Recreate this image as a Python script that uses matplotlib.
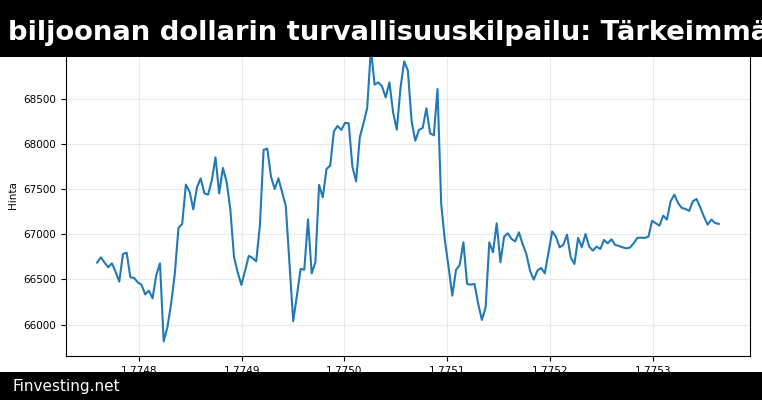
import matplotlib
matplotlib.use("Agg")
import matplotlib.pyplot as plt
from matplotlib.patches import Rectangle
from matplotlib.ticker import ScalarFormatter
import numpy as np

# hourly timestamps (in units of 1e9 s), first point and step
t_start = 1.7747594
t_step = 0.0000036

# price readings, one per hour
price = [
    66686, 66744, 66689, 66634, 66678, 66586, 66476, 66782, 66796, 66523,
    66517, 66468, 66442, 66335, 66376, 66291, 66550, 66678, 65815, 65970,
    66229, 66561, 67070, 67114, 67549, 67471, 67275, 67519, 67618, 67452,
    67438, 67593, 67851, 67452, 67733, 67582, 67280, 66752, 66579, 66439,
    66597, 66760, 66738, 66700, 67095, 67933, 67947, 67637, 67501, 67618,
    67464, 67313, 66671, 66037, 66321, 66616, 66608, 67165, 66567, 66689,
    67545, 67408, 67722, 67759, 68138, 68198, 68154, 68231, 68227, 67748,
    67585, 68072, 68227, 68397, 69053, 68655, 68680, 68636, 68514, 68680,
    68348, 68157, 68618, 68913, 68810, 68249, 68035, 68154, 68176, 68393,
    68116, 68094, 68607, 67335, 66929, 66634, 66321, 66605, 66660, 66910,
    66450, 66442, 66450, 66229, 66052, 66191, 66910, 66800, 67121, 66689,
    66973, 67010, 66948, 66921, 67021, 66893, 66782, 66597, 66498, 66597,
    66627, 66567, 66800, 67032, 66973, 66855, 66882, 66996, 66744, 66671,
    66959, 66855, 67003, 66863, 66819, 66863, 66837, 66937, 66899, 66944,
    66882, 66871, 66855, 66844, 66852, 66899, 66959, 66962, 66959, 66973,
    67150, 67121, 67095, 67206, 67162, 67364, 67438, 67346, 67291, 67280,
    67258, 67364, 67390, 67298, 67195, 67106, 67162, 67125, 67114,
]

title_text = "biljoonan dollarin turvallisuuskilpailu: Tärkeimmät sijoituskohteet"
footer_text = "Finvesting.net"

times = t_start + t_step * np.arange(len(price))

fig = plt.figure(figsize=(7.62, 4.0), dpi=100)
ax = fig.add_axes([0.0866, 0.11, 0.8974, 0.805])

ax.plot(times, price, color="#2179b6", linewidth=1.5)
ax.set_ylabel("Hinta", fontsize=7.5)
ax.tick_params(labelsize=7.5)
ax.grid(True, color="#dddddd", linewidth=0.8, alpha=0.6)

fmt = ScalarFormatter(useOffset=False)
ax.xaxis.set_major_formatter(fmt)
ax.set_xticks([1.7748, 1.7749, 1.7750, 1.7751, 1.7752, 1.7753])

# black banners over the top and bottom of the figure
fig.patches.append(Rectangle((0, 0.8575), 1, 0.1425, transform=fig.transFigure,
                             facecolor="black", zorder=10))
fig.patches.append(Rectangle((0, 0), 1, 0.07, transform=fig.transFigure,
                             facecolor="black", zorder=10))

fig.text(0.010, 0.918, title_text, color="white", fontsize=19.7, fontweight="bold",
         va="center", ha="left", zorder=11)
fig.text(0.016, 0.035, footer_text, color="white", fontsize=11,
         va="center", ha="left", zorder=11)

fig.savefig("out.png", dpi=100)
